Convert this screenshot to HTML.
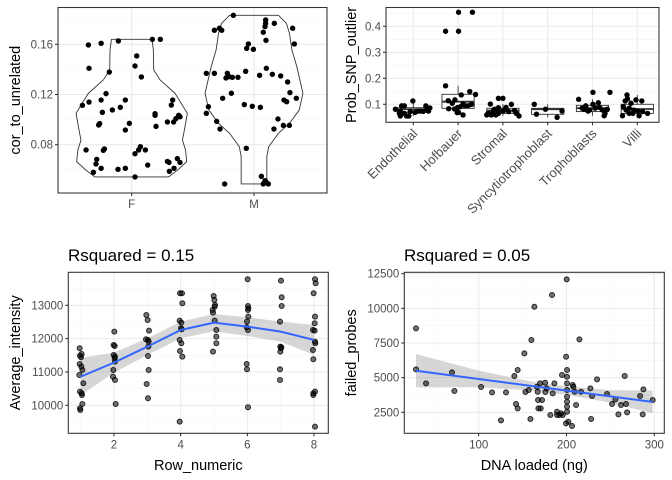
<!DOCTYPE html>
<html><head><meta charset="utf-8"><style>
body{margin:0;background:#fff}
svg{display:block;font-family:"Liberation Sans",sans-serif}
</style></head><body>
<svg id="c" width="672" height="480" viewBox="0 0 672 480" xmlns="http://www.w3.org/2000/svg"></svg>
<script>
// ---------- Panel 1 data (violin by sex) ----------
const p1Cats = ["F","M"];
const p1Ticks = [0.08,0.12,0.16];
const p1Minor = [0.06,0.10,0.14,0.18];
const p1FJit = [-0.354,-0.25,-0.109,0.169,0.234,-0.349,0.041,-0.183,0.027,0.079,-0.21,-0.349,-0.403,-0.25,-0.052,-0.093,-0.158,-0.24,-0.262,-0.27,-0.019,-0.052,0.191,0.191,0.199,0.292,0.335,0.324,0.343,0.362,0.384,0.395,-0.373,-0.232,-0.223,-0.286,-0.292,-0.25,-0.313,-0.112,-0.052,0.027,0.071,0.027,0.057,0.112,0.131,0.292,0.305,0.373,0.395,0.346,0.308];
const p1FVal = [0.1595,0.1608,0.1627,0.164,0.164,0.1409,0.1507,0.1379,0.1427,0.134,0.1207,0.114,0.1114,0.1156,0.1156,0.1098,0.1077,0.1058,0.0968,0.0957,0.097,0.0917,0.1047,0.1034,0.0946,0.0981,0.1156,0.1116,0.0981,0.1008,0.1034,0.1023,0.0758,0.0755,0.0766,0.0683,0.0646,0.0612,0.058,0.0604,0.0612,0.0543,0.0784,0.0728,0.0758,0.0758,0.0638,0.0667,0.0659,0.0689,0.0659,0.0612,0.0588];
const p1MJit = [-0.169,-0.324,-0.283,-0.264,0.095,0.095,0.09,0.076,0.166,0.316,0.098,0.33,-0.046,-0.06,-0.005,-0.39,-0.324,-0.229,-0.218,-0.204,-0.177,-0.131,-0.068,0.101,0.046,0.15,0.218,0.275,0.294,-0.185,-0.373,-0.256,-0.079,-0.014,0.052,0.245,0.267,0.346,-0.39,-0.305,-0.278,0.196,0.163,0.24,0.289,-0.063,-0.24,0.06,0.09,0.076,0.117,0.098];
const p1MVal = [0.1831,0.1712,0.1728,0.1712,0.1794,0.1767,0.1741,0.1696,0.1767,0.1728,0.1632,0.1603,0.1603,0.1568,0.156,0.1369,0.1369,0.1332,0.1369,0.1342,0.1337,0.1337,0.1385,0.1409,0.1353,0.1361,0.1348,0.13,0.1215,0.121,0.1103,0.117,0.112,0.1106,0.1098,0.1156,0.1143,0.117,0.105,0.0986,0.0925,0.1005,0.0925,0.0954,0.0954,0.0771,0.0487,0.0548,0.0513,0.0487,0.0487,0.0505];
const p1FViolinY = [0.164,0.1555,0.1396,0.1316,0.121,0.105,0.0944,0.0837,0.0758,0.0665,0.0598,0.0543];
const p1FViolinW = [0.166,0.177,0.18,0.232,0.354,0.455,0.436,0.415,0.44,0.45,0.375,0.3];
const p1MViolinY = [0.1831,0.1767,0.1688,0.1555,0.1422,0.121,0.1077,0.097,0.0891,0.0784,0.0705,0.0487];
const p1MViolinW = [0.2,0.265,0.29,0.31,0.35,0.4,0.37,0.29,0.2,0.12,0.105,0.105];

// ---------- Panel 2 data (boxplots by cell type) ----------
const p2Cats = ["Endothelial","Hofbauer","Stromal","Syncytiotrophoblast","Trophoblasts","Villi"];
const p2Ticks = [0.1,0.2,0.3,0.4];
const p2Minor = [0.15,0.25,0.35,0.45];
const p2Q1 = [0.069,0.0846,0.065,0.0615,0.072,0.065];
const p2Med = [0.081,0.110,0.0756,0.081,0.085,0.082];
const p2Q3 = [0.087,0.1385,0.0846,0.0846,0.096,0.100];
const p2Lo = [0.055,0.059,0.055,0.050,0.056,0.056];
const p2Hi = [0.113,0.171,0.101,0.100,0.119,0.136];
const p2PtCat = [0,0,0,0,0,0,0,0,0,0,0,0,0,0,0,0,0,0,0,1,1,1,1,1,1,1,1,1,1,1,1,1,1,1,1,1,1,1,1,1,1,2,2,2,2,2,2,2,2,2,2,2,2,2,2,2,2,2,2,2,2,3,3,3,3,3,4,4,4,4,4,4,4,4,4,4,4,4,4,4,4,4,4,5,5,5,5,5,5,5,5,5,5,5,5,5,5,5,5,5];
const p2PtJit = [-0.40,-0.31,-0.29,-0.26,-0.20,-0.15,-0.10,-0.07,-0.01,0.04,0.10,0.15,0.22,0.28,0.31,0.37,0.34,-0.29,-0.20,-0.28,-0.28,0.01,0.01,0.32,-0.22,-0.13,-0.07,0.07,0.26,0.39,-0.21,-0.08,-0.01,0.05,0.11,0.16,-0.02,0.01,0.11,0.22,0.30,-0.33,-0.28,-0.26,-0.19,-0.16,-0.10,-0.10,0,-0.10,0,0.07,0.13,0.19,0.26,0.30,0.36,-0.36,-0.22,-0.13,0.04,-0.30,-0.25,-0.05,0.21,0.32,-0.31,-0.23,-0.16,-0.10,-0.06,0.01,0.01,0.13,0.16,0.22,0.26,0.33,0.39,-0.15,-0.19,0.06,0.28,-0.33,-0.31,-0.27,-0.23,-0.22,-0.18,-0.14,-0.08,-0.03,0.01,0.04,0.10,0.12,0.23,-0.18,-0.10,-0.25];
const p2PtVal = [0.081,0.065,0.055,0.094,0.094,0.055,0.055,0.072,0.113,0.069,0.074,0.074,0.073,0.094,0.085,0.086,0.074,0.074,0.065,0.171,0.381,0.381,0.454,0.454,0.114,0.104,0.117,0.136,0.149,0.138,0.083,0.082,0.088,0.091,0.101,0.094,0.068,0.069,0.059,0.094,0.100,0.065,0.101,0.059,0.081,0.059,0.087,0.123,0.123,0.065,0.074,0.088,0.072,0.100,0.076,0.065,0.055,0.059,0.074,0.078,0.078,0.100,0.062,0.081,0.050,0.074,0.119,0.085,0.088,0.074,0.078,0.146,0.100,0.106,0.088,0.078,0.056,0.081,0.146,0.094,0.081,0.085,0.065,0.056,0.091,0.113,0.136,0.121,0.085,0.104,0.078,0.117,0.074,0.056,0.113,0.072,0.065,0.065,0.065,0.078];

// ---------- Panel 3 data (Average_intensity vs Row_numeric) ----------
const p3XTicks = [2,4,6,8];
const p3YTicks = [10000,11000,12000,13000];
const p3Rows = [1,1,1,1,1,1,1,1,1,1,1,1,1,1,1,2,2,2,2,2,2,2,2,2,2,2,3,3,3,3,3,3,3,3,3,3,3,4,4,4,4,4,4,4,4,4,4,4,4,5,5,5,5,5,5,5,5,5,5,5,6,6,6,6,6,6,6,6,6,6,6,7,7,7,7,7,7,7,7,7,7,8,8,8,8,8,8,8,8,8,8,8,8,8,8,8];
const p3Jit = [-0.03,0.03,-0.02,0.01,-0.03,0.02,0.05,-0.04,0.08,-0.02,0.03,0.04,0.05,-0.02,-0.01,0.01,-0.01,0.02,-0.01,0.03,0.02,0.03,-0.02,-0.03,0.03,0.05,-0.03,0.01,0.05,-0.04,0.02,0.04,0.03,0.02,0.04,-0.02,0.02,-0.02,0.04,0.05,-0.03,0.02,0.01,0.03,-0.03,0.02,-0.02,0.05,-0.03,-0.01,0.01,0.03,0.02,-0.04,-0.03,0.02,0.07,0.07,0.07,-0.03,0.01,0.02,0.03,0.02,0.03,-0.01,-0.02,0.02,-0.02,-0.01,0.02,0.01,0.03,0.03,-0.02,-0.01,0.02,0.01,-0.01,-0.02,-0.02,0.03,0.05,-0.01,0.03,0.02,-0.03,0.02,0.03,0.04,-0.03,-0.02,0.03,-0.02,-0.02,0.03];
const p3Val = [11710,11540,11490,11440,11240,11160,11060,10910,10660,10410,10360,10310,10040,9910,9860,12210,11810,11780,11510,11460,11410,11310,11060,10860,10760,10040,12710,12560,12240,11980,11960,11910,11760,11480,11060,10640,10210,13360,13360,13060,12540,12480,12310,12280,11960,11860,11630,11460,9510,13280,13160,13010,12960,12860,12780,12540,12260,12060,11860,11610,13780,12980,12910,12860,12660,12510,12340,12260,11240,11080,9940,13740,13240,12980,12510,11760,11740,11710,11610,11080,10760,13780,13660,13360,12660,12460,12260,12240,11910,11860,11660,11380,10410,10360,10310,9360];
const p3FitX = [1,2,3,4,5,6,7,8];
const p3FitY = [10860,11280,11760,12260,12480,12360,12210,11960];
const p3FitSE = [560,300,250,250,260,280,300,450];

// ---------- Panel 4 data (failed_probes vs DNA loaded) ----------
const p4XTicks = [100,200,300];
const p4YTicks = [2500,5000,7500,10000,12500];
const p4X = [28.6,28.6,40,69.6,72.3,102.7,115.2,131.1,125.4,140.6,142.5,144.4,144.4,152,153.2,157,158.9,160,163.4,166.4,167.2,167.6,168,169.9,170.6,172.1,175.6,175.9,177.5,181.6,183.5,184.3,186.2,189.2,189.2,191.9,193.8,194.9,195.7,199.5,200.2,200.6,200.6,200.6,200.6,200.6,200.6,200.6,200.6,199.5,202.1,206.3,207.1,207.8,209.4,210.9,214.7,216.6,227.2,228,229.1,234.8,246.2,251.9,255.7,259.1,262.1,266.3,267.8,269,283.8,286.8,287.6,298.2];
const p4Y = [8556,5598,4587,5381,4034,4323,3938,3938,1918,5117,3096,2784,5550,6752,3962,4107,2014,7714,10119,4347,3986,3385,2784,4587,2784,3385,4636,3962,4227,2303,10961,3866,4587,2543,2303,2303,2423,5189,2303,6512,12091,5550,5069,4587,4107,3626,3265,2904,2543,1701,1822,1509,4467,4347,3986,3024,7762,3986,4227,2014,3674,4876,3818,3096,3433,2351,3024,5117,3096,2495,3674,2351,4155,3385];
const p4Intercept = 5739;
const p4Slope = -8.35;
const p4BandX = [28.6,100,160,200,250,298];
const p4BandSE = [1200,600,320,300,450,820];

// ---------- drawing helpers ----------
const NS = "http://www.w3.org/2000/svg";
const svg = document.getElementById("c");
function mk(tag, attrs, parent) {
  const e = document.createElementNS(NS, tag);
  for (const k in attrs) e.setAttribute(k, attrs[k]);
  (parent || svg).appendChild(e);
  return e;
}
function lin(d0, d1, r0, r1) { return v => r0 + (v - d0) / (d1 - d0) * (r1 - r0); }
function panelFrame(name) {
  const g = mk("g", {});
  
  
  return g;
}
function gridLine(g, x1, y1, x2, y2, major) {
  const l = mk("line", {x1, y1, x2, y2, stroke: major ? "#EBEBEB" : "#F4F4F4", "stroke-width": major ? 1.07 : 0.53}, g);
  
  
}
function border(g, x0, y0, x1, y1) {
  const r = mk("rect", {x: x0, y: y0, width: x1 - x0, height: y1 - y0, fill: "none", stroke: "#333333", "stroke-width": 1.07}, g);
  
  
}
function txt(g, s, attrs, name) {
  const t = mk("text", Object.assign({"font-size": 11.5, fill: "#4D4D4D"}, attrs), g);
  t.textContent = s;
  
  
  return t;
}
function tickMark(g, x1, y1, x2, y2) {
  const l = mk("line", {x1, y1, x2, y2, stroke: "#333333", "stroke-width": 1.07}, g);
  
  
}
function dot(g, cx, cy, fill, stroke, r) {
  const c = mk("circle", {cx, cy, r: r || 2.7, fill, stroke: stroke || "none"}, g);
  
  
}

// ---------- Panel 1 ----------
(function () {
  const X0 = 58, X1 = 327, Y0 = 7.5, Y1 = 193;
  const g = panelFrame("violin-panel");
  const y = lin(0.08, 0.16, 144.7, 44.3);
  const xc = i => 131.7 + i * 122.3;
  p1Minor.forEach(v => gridLine(g, X0, y(v), X1, y(v), false));
  p1Ticks.forEach(v => gridLine(g, X0, y(v), X1, y(v), true));
  p1Cats.forEach((c, i) => gridLine(g, xc(i), Y0, xc(i), Y1, true));
  function violin(ci, ys, ws, name) {
    let pts = [];
    ys.forEach((v, k) => pts.push([xc(ci) + ws[k] * 122.3, y(v)]));
    for (let k = ys.length - 1; k >= 0; k--) pts.push([xc(ci) - ws[k] * 122.3, y(ys[k])]);
    const p = mk("polygon", {points: pts.map(p => p.join(",")).join(" "), fill: "none", stroke: "#333333", "stroke-width": 0.9, "stroke-linejoin": "round"}, g);
    
    
  }
  violin(0, p1FViolinY, p1FViolinW, 'violin-f');
  violin(1, p1MViolinY, p1MViolinW, 'violin-m');
  p1FVal.forEach((v, i) => dot(g, xc(0) + p1FJit[i] * 122.3, y(v), "#000"));
  p1MVal.forEach((v, i) => dot(g, xc(1) + p1MJit[i] * 122.3, y(v), "#000"));
  border(g, X0, Y0, X1, Y1);
  p1Ticks.forEach(v => { tickMark(g, X0 - 3, y(v), X0, y(v)); txt(g, v.toFixed(2), {x: X0 - 5, y: y(v) + 4, "text-anchor": "end"}, 'y-tick-label'); });
  p1Cats.forEach((c, i) => { tickMark(g, xc(i), Y1, xc(i), Y1 + 3); txt(g, c, {x: xc(i), y: Y1 + 15, "text-anchor": "middle"}, 'x-tick-label'); });
  txt(g, "cor_to_unrelated", {x: 0, y: 0, "font-size": 14.5, fill: "#000", "text-anchor": "middle", transform: `translate(20,${(Y0 + Y1) / 2}) rotate(-90)`}, 'y-axis-title');
})();

// ---------- Panel 2 ----------
(function () {
  const X0 = 386, X1 = 659, Y0 = 7.5, Y1 = 122.3;
  const g = panelFrame("boxplot-panel");
  const y = lin(0.1, 0.4, 104.3, 26.3);
  const xc = i => 413.3 + i * 44.8;
  p2Minor.forEach(v => gridLine(g, X0, y(v), X1, y(v), false));
  p2Ticks.forEach(v => gridLine(g, X0, y(v), X1, y(v), true));
  p2Cats.forEach((c, i) => gridLine(g, xc(i), Y0, xc(i), Y1, true));
  const hw = 0.36 * 44.8;
  p2Cats.forEach((c, i) => {
    const bg = mk("g", {}, g);
    
    
    mk("line", {x1: xc(i), y1: y(p2Q3[i]), x2: xc(i), y2: y(p2Hi[i]), stroke: "#333", "stroke-width": 0.9}, bg);
    mk("line", {x1: xc(i), y1: y(p2Q1[i]), x2: xc(i), y2: y(p2Lo[i]), stroke: "#333", "stroke-width": 0.9}, bg);
    mk("rect", {x: xc(i) - hw, y: y(p2Q3[i]), width: 2 * hw, height: y(p2Q1[i]) - y(p2Q3[i]), fill: "#fff", stroke: "#333", "stroke-width": 0.9}, bg);
    mk("line", {x1: xc(i) - hw, y1: y(p2Med[i]), x2: xc(i) + hw, y2: y(p2Med[i]), stroke: "#333", "stroke-width": 1.8}, bg);
  });
  p2PtVal.forEach((v, i) => dot(g, xc(p2PtCat[i]) + p2PtJit[i] * 44.8, y(v), "#000"));
  border(g, X0, Y0, X1, Y1);
  p2Ticks.forEach(v => { tickMark(g, X0 - 3, y(v), X0, y(v)); txt(g, v.toFixed(1), {x: X0 - 5, y: y(v) + 4, "text-anchor": "end"}, 'y-tick-label'); });
  p2Cats.forEach((c, i) => { tickMark(g, xc(i), Y1, xc(i), Y1 + 3); txt(g, c, {x: 0, y: 0, "font-size": 13, "text-anchor": "end", transform: `translate(${xc(i) + 5},${Y1 + 12}) rotate(-45)`}, 'x-tick-label'); });
  txt(g, "Prob_SNP_outlier", {x: 0, y: 0, "font-size": 14.5, fill: "#000", "text-anchor": "middle", transform: `translate(356,${(Y0 + Y1) / 2}) rotate(-90)`}, 'y-axis-title');
})();

// ---------- Panel 3 ----------
(function () {
  const X0 = 68.3, X1 = 328.3, Y0 = 272.3, Y1 = 433.3;
  const g = panelFrame("intensity-scatter-panel");
  const x = lin(2, 8, 114, 314);
  const y = lin(10000, 13000, 405.3, 305.3);
  [1, 3, 5, 7].forEach(v => gridLine(g, x(v), Y0, x(v), Y1, false));
  [9500, 10500, 11500, 12500, 13500].forEach(v => gridLine(g, X0, y(v), X1, y(v), false));
  p3XTicks.forEach(v => gridLine(g, x(v), Y0, x(v), Y1, true));
  p3YTicks.forEach(v => gridLine(g, X0, y(v), X1, y(v), true));
  let up = p3FitX.map((v, i) => [x(v), y(p3FitY[i] + p3FitSE[i])]);
  let dn = p3FitX.map((v, i) => [x(v), y(p3FitY[i] - p3FitSE[i])]).reverse();
  const band = mk("polygon", {points: up.concat(dn).map(p => p.join(",")).join(" "), fill: "#999999", "fill-opacity": 0.4}, g);
  
  
  p3Val.forEach((v, i) => dot(g, x(p3Rows[i] + p3Jit[i]), y(v), "rgba(0,0,0,0.55)", "rgba(0,0,0,0.8)", 2.5));
  const line = mk("polyline", {points: p3FitX.map((v, i) => x(v) + "," + y(p3FitY[i])).join(" "), fill: "none", stroke: "#3366FF", "stroke-width": 2}, g);
  
  
  border(g, X0, Y0, X1, Y1);
  p3YTicks.forEach(v => { tickMark(g, X0 - 3, y(v), X0, y(v)); txt(g, String(v), {x: X0 - 5, y: y(v) + 4, "text-anchor": "end"}, 'y-tick-label'); });
  p3XTicks.forEach(v => { tickMark(g, x(v), Y1, x(v), Y1 + 3); txt(g, String(v), {x: x(v), y: Y1 + 15, "text-anchor": "middle"}, 'x-tick-label'); });
  txt(g, "Row_numeric", {x: (X0 + X1) / 2, y: 470, "font-size": 14.5, fill: "#000", "text-anchor": "middle"}, 'x-axis-title');
  txt(g, "Average_intensity", {x: 0, y: 0, "font-size": 14.5, fill: "#000", "text-anchor": "middle", transform: `translate(20,${(Y0 + Y1) / 2}) rotate(-90)`}, 'y-axis-title');
  txt(g, "Rsquared = 0.15", {x: 68, y: 261, "font-size": 17, fill: "#000"}, 'plot-title');
})();

// ---------- Panel 4 ----------
(function () {
  const X0 = 404.3, X1 = 664.3, Y0 = 272.3, Y1 = 433.3;
  const g = panelFrame("failed-probes-scatter-panel");
  const x = lin(100, 300, 478.7, 654.3);
  const y = lin(2500, 12500, 412.3, 273.7);
  [50, 150, 250].forEach(v => gridLine(g, x(v), Y0, x(v), Y1, false));
  [3750, 6250, 8750, 11250].forEach(v => gridLine(g, X0, y(v), X1, y(v), false));
  p4XTicks.forEach(v => gridLine(g, x(v), Y0, x(v), Y1, true));
  p4YTicks.forEach(v => gridLine(g, X0, y(v), X1, y(v), true));
  const fit = v => p4Intercept + p4Slope * v;
  let up = p4BandX.map((v, i) => [x(v), y(fit(v) + p4BandSE[i])]);
  let dn = p4BandX.map((v, i) => [x(v), y(fit(v) - p4BandSE[i])]).reverse();
  const band = mk("polygon", {points: up.concat(dn).map(p => p.join(",")).join(" "), fill: "#999999", "fill-opacity": 0.4}, g);
  
  
  p4Y.forEach((v, i) => dot(g, x(p4X[i]), y(v), "rgba(0,0,0,0.55)", "rgba(0,0,0,0.8)", 2.5));
  const xa = p4BandX[0], xb = p4BandX[p4BandX.length - 1];
  const line = mk("line", {x1: x(xa), y1: y(fit(xa)), x2: x(xb), y2: y(fit(xb)), stroke: "#3366FF", "stroke-width": 2}, g);
  
  
  border(g, X0, Y0, X1, Y1);
  p4YTicks.forEach(v => { tickMark(g, X0 - 3, y(v), X0, y(v)); txt(g, String(v), {x: X0 - 5, y: y(v) + 4, "text-anchor": "end"}, 'y-tick-label'); });
  p4XTicks.forEach(v => { tickMark(g, x(v), Y1, x(v), Y1 + 3); txt(g, String(v), {x: x(v), y: Y1 + 15, "text-anchor": "middle"}, 'x-tick-label'); });
  txt(g, "DNA loaded (ng)", {x: (X0 + X1) / 2, y: 470, "font-size": 14.5, fill: "#000", "text-anchor": "middle"}, 'x-axis-title');
  txt(g, "failed_probes", {x: 0, y: 0, "font-size": 14.5, fill: "#000", "text-anchor": "middle", transform: `translate(356,${(Y0 + Y1) / 2}) rotate(-90)`}, 'y-axis-title');
  txt(g, "Rsquared = 0.05", {x: 404, y: 261, "font-size": 17, fill: "#000"}, 'plot-title');
})();
</script>
</body></html>
